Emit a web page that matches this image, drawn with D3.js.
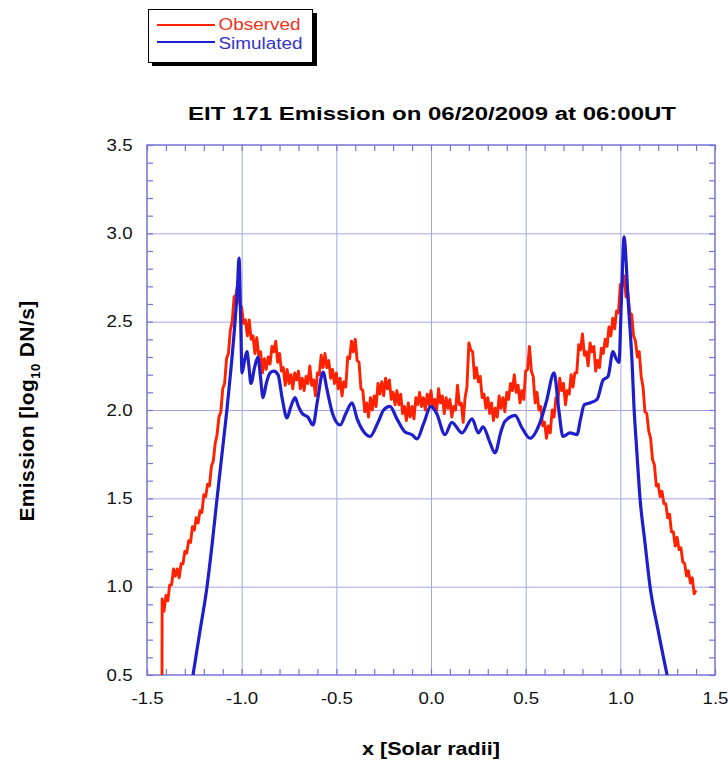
<!DOCTYPE html>
<html>
<head>
<meta charset="utf-8">
<script src="https://cdn.jsdelivr.net/npm/d3@7"></script>
<style>
  body { margin: 0; background: #fff; }
  svg { display: block; }
  text { font-family: "Liberation Sans", Arial, Helvetica, sans-serif; }
</style>
</head>
<body>
<svg id="chart" width="728" height="768"></svg>
<script>
/* ---------------------------------------------------
   Data
--------------------------------------------------- */

const xTicks = [-1.5, -1.0, -0.5, 0.0, 0.5, 1.0, 1.5];
const yTicks = [0.5, 1.0, 1.5, 2.0, 2.5, 3.0, 3.5];

const seriesNames = ["Observed", "Simulated"];

// observed EIT 171 profile (noisy)
const obsX = [
  -1.421, -1.42, -1.41, -1.40, -1.39, -1.38, -1.37, -1.36, -1.35, -1.34, -1.33,
  -1.32, -1.31, -1.30, -1.29, -1.28, -1.27, -1.26, -1.25, -1.24, -1.23,
  -1.22, -1.21, -1.20, -1.19, -1.18, -1.17, -1.16, -1.15, -1.14, -1.13,
  -1.12, -1.11, -1.10, -1.09, -1.08, -1.07, -1.06, -1.05, -1.04, -1.03,
  -1.02, -1.01, -1.00, -0.99, -0.98, -0.97, -0.96, -0.95, -0.94, -0.93,
  -0.92, -0.91, -0.90, -0.89, -0.88, -0.87, -0.86, -0.85, -0.84, -0.83,
  -0.82, -0.81, -0.80, -0.79, -0.78, -0.77, -0.76, -0.75, -0.74, -0.73,
  -0.72, -0.71, -0.70, -0.69, -0.68, -0.67, -0.66, -0.65, -0.64, -0.63,
  -0.62, -0.61, -0.60, -0.59, -0.58, -0.57, -0.56, -0.55, -0.54, -0.53,
  -0.52, -0.51, -0.50, -0.49, -0.48, -0.47, -0.46, -0.45, -0.44, -0.43,
  -0.42, -0.41, -0.40, -0.39, -0.38, -0.37, -0.36, -0.35, -0.34, -0.33,
  -0.32, -0.31, -0.30, -0.29, -0.28, -0.27, -0.26, -0.25, -0.24, -0.23,
  -0.22, -0.21, -0.20, -0.19, -0.18, -0.17, -0.16, -0.15, -0.14, -0.13,
  -0.12, -0.11, -0.10, -0.09, -0.08, -0.07, -0.06, -0.05, -0.04, -0.03,
  -0.02, -0.01, 0.00, 0.01, 0.02, 0.03, 0.04, 0.05, 0.06, 0.07,
  0.08, 0.09, 0.10, 0.11, 0.12, 0.13, 0.14, 0.15, 0.16, 0.17,
  0.18, 0.19, 0.20, 0.21, 0.22, 0.23, 0.24, 0.25, 0.26, 0.27,
  0.28, 0.29, 0.30, 0.31, 0.32, 0.33, 0.34, 0.35, 0.36, 0.37,
  0.38, 0.39, 0.40, 0.41, 0.42, 0.43, 0.44, 0.45, 0.46, 0.47,
  0.48, 0.49, 0.50, 0.51, 0.52, 0.53, 0.54, 0.55, 0.56, 0.57,
  0.58, 0.59, 0.60, 0.61, 0.62, 0.63, 0.64, 0.65, 0.66, 0.67,
  0.68, 0.69, 0.70, 0.71, 0.72, 0.73, 0.74, 0.75, 0.76, 0.77,
  0.78, 0.79, 0.80, 0.81, 0.82, 0.83, 0.84, 0.85, 0.86, 0.87,
  0.88, 0.89, 0.90, 0.91, 0.92, 0.93, 0.94, 0.95, 0.96, 0.97,
  0.98, 0.99, 1.00, 1.01, 1.02, 1.03, 1.04, 1.05, 1.06, 1.07,
  1.08, 1.09, 1.10, 1.11, 1.12, 1.13, 1.14, 1.15, 1.16, 1.17,
  1.18, 1.19, 1.20, 1.21, 1.22, 1.23, 1.24, 1.25, 1.26, 1.27,
  1.28, 1.29, 1.30, 1.31, 1.32, 1.33, 1.34, 1.35, 1.36, 1.37,
  1.38, 1.39, 1.40
];
const obsY = [
  0.40, 0.93, 0.86, 0.95, 0.92, 1.01, 1.01, 1.10, 1.06, 1.10, 1.05,
  1.13, 1.13, 1.20, 1.19, 1.26, 1.25, 1.34, 1.32, 1.39, 1.36,
  1.43, 1.42, 1.52, 1.51, 1.58, 1.57, 1.68, 1.71, 1.81, 1.86,
  1.96, 1.99, 2.12, 2.15, 2.29, 2.32, 2.45, 2.50, 2.64, 2.65,
  2.72, 2.60, 2.58, 2.49, 2.51, 2.42, 2.51, 2.40, 2.42, 2.32,
  2.41, 2.31, 2.33, 2.21, 2.29, 2.23, 2.30, 2.26, 2.36, 2.33,
  2.39, 2.27, 2.32, 2.22, 2.24, 2.14, 2.23, 2.15, 2.20, 2.12,
  2.21, 2.17, 2.22, 2.12, 2.18, 2.11, 2.19, 2.15, 2.25, 2.14,
  2.17, 2.08, 2.21, 2.20, 2.31, 2.24, 2.32, 2.24, 2.28, 2.18,
  2.23, 2.15, 2.21, 2.12, 2.18, 2.08, 2.16, 2.13, 2.30, 2.29,
  2.39, 2.33, 2.40, 2.28, 2.27, 2.12, 2.11, 1.99, 2.04, 1.96,
  2.07, 2.00, 2.08, 2.02, 2.15, 2.09, 2.16, 2.08, 2.18, 2.12,
  2.17, 2.06, 2.10, 2.03, 2.11, 2.03, 2.09, 1.98, 2.02, 1.94,
  2.04, 1.96, 2.02, 1.95, 2.07, 2.03, 2.10, 2.02, 2.07, 2.00,
  2.09, 2.03, 2.11, 2.01, 2.06, 2.00, 2.12, 2.04, 2.08, 1.98,
  2.07, 2.01, 2.06, 1.96, 2.02, 2.00, 2.14, 2.03, 2.04, 1.93,
  2.07, 2.13, 2.38, 2.34, 2.33, 2.18, 2.24, 2.16, 2.19, 2.07,
  2.09, 2.01, 2.07, 1.98, 2.04, 1.94, 2.01, 1.96, 2.08, 2.01,
  2.07, 1.99, 2.10, 2.06, 2.15, 2.11, 2.20, 2.10, 2.14, 2.04,
  2.11, 2.06, 2.22, 2.23, 2.36, 2.22, 2.19, 2.04, 2.10, 2.00,
  2.02, 1.91, 1.93, 1.84, 1.91, 1.87, 2.00, 1.96, 2.07, 2.04,
  2.18, 2.11, 2.15, 2.03, 2.11, 2.09, 2.20, 2.13, 2.21, 2.21,
  2.37, 2.34, 2.43, 2.31, 2.33, 2.25, 2.38, 2.33, 2.36, 2.22,
  2.28, 2.24, 2.35, 2.32, 2.40, 2.36, 2.47, 2.42, 2.52, 2.46,
  2.56, 2.55, 2.71, 2.70, 2.76, 2.64, 2.66, 2.55, 2.54, 2.42,
  2.39, 2.30, 2.33, 2.19, 2.13, 1.99, 1.98, 1.88, 1.84, 1.72,
  1.69, 1.57, 1.58, 1.51, 1.54, 1.47, 1.47, 1.39, 1.41, 1.31,
  1.31, 1.23, 1.28, 1.21, 1.22, 1.14, 1.13, 1.06, 1.09, 1.02,
  1.05, 0.96, 0.98
];

// simulated profile (smooth)
const simX = [
  -1.257, -1.22, -1.183, -1.155, -1.13, -1.104, -1.078, -1.055, -1.035, -1.022,
  -1.014, -1.006, -0.998, -0.985, -0.972, -0.962, -0.951, -0.932, -0.914, -0.90,
  -0.887, -0.87, -0.85, -0.83, -0.808, -0.785, -0.761, -0.74, -0.718, -0.70,
  -0.68, -0.65, -0.623, -0.60, -0.57, -0.55, -0.52, -0.48, -0.45, -0.417,
  -0.39, -0.35, -0.322, -0.28, -0.25, -0.217, -0.18, -0.137, -0.10, -0.074,
  -0.04, 0.0, 0.03, 0.074, 0.11, 0.164, 0.217, 0.25, 0.275, 0.31,
  0.338, 0.37, 0.39, 0.444, 0.48, 0.523, 0.576, 0.61, 0.65, 0.675,
  0.697, 0.734, 0.771, 0.79, 0.81, 0.84, 0.877, 0.909, 0.935, 0.961,
  0.978, 0.993, 1.005, 1.02, 1.03, 1.04, 1.052, 1.062, 1.072, 1.085,
  1.104, 1.13, 1.157, 1.20, 1.247
];
const simY = [
  0.50, 0.75, 1.00, 1.25, 1.50, 1.75, 2.00, 2.25, 2.50, 2.70,
  2.86, 2.55, 2.21, 2.28, 2.33, 2.25, 2.15, 2.24, 2.30, 2.18,
  2.07, 2.15, 2.21, 2.22, 2.20, 2.06, 1.955, 2.02, 2.07, 2.02,
  1.98, 1.96, 1.915, 2.05, 2.215, 2.12, 1.98, 1.915, 1.98, 2.04,
  1.95, 1.87, 1.85, 1.93, 2.00, 2.02, 1.95, 1.876, 1.86, 1.836,
  1.92, 2.02, 1.98, 1.86, 1.93, 1.87, 1.95, 1.87, 1.905, 1.82,
  1.757, 1.88, 1.935, 1.97, 1.90, 1.84, 1.93, 2.05, 2.21, 2.00,
  1.85, 1.87, 1.86, 1.95, 2.03, 2.04, 2.06, 2.17, 2.19, 2.33,
  2.29, 2.27, 2.60, 2.98, 2.85, 2.64, 2.45, 2.27, 2.02, 1.80,
  1.50, 1.25, 1.00, 0.75, 0.50
];

const titleText = "EIT 171 Emission on 06/20/2009 at 06:00UT";

/* ---------------------------------------------------
   Setup
--------------------------------------------------- */

const svg = d3.select("#chart");
const margin = { left: 147, right: 715, top: 145, bottom: 675 };

const red = "#ff2200";
const blue = "#1e1ecc";
const frameColour = "#7474d8";
const gridColour = "#a4a4ea";

const x = d3.scaleLinear().domain([-1.5, 1.5]).range([margin.left, margin.right]);
const y = d3.scaleLinear().domain([0.5, 3.5]).range([margin.bottom, margin.top]);

const obs = obsX.map((d, i) => [d, obsY[i]]);
const sim = simX.map((d, i) => [d, simY[i]]);

// stretch text horizontally a bit, like the original image
function stretch(sel, factor) {
  sel.each(function () {
    const len = this.getComputedTextLength();
    d3.select(this).attr("textLength", len * factor).attr("lengthAdjust", "spacingAndGlyphs");
  });
}

/* ---------------------------------------------------
   Grid and frame
--------------------------------------------------- */

const plotH = margin.bottom - margin.top;
const plotW = margin.right - margin.left;

svg.append("g")
  .attr("transform", `translate(0,${margin.bottom})`)
  .call(d3.axisBottom(x).tickValues(xTicks.slice(1, -1)).tickSize(-plotH).tickFormat(""))
  .call(g => g.select(".domain").remove())
  .call(g => g.selectAll("line").attr("stroke", gridColour));

svg.append("g")
  .attr("transform", `translate(${margin.left},0)`)
  .call(d3.axisLeft(y).tickValues(yTicks.slice(1, -1)).tickSize(-plotW).tickFormat(""))
  .call(g => g.select(".domain").remove())
  .call(g => g.selectAll("line").attr("stroke", gridColour));

const xMinor = d3.range(-15, 16).map(d => d / 10);
const yMinor = d3.range(5, 36).map(d => d / 10);

function minorAxis(axis, tr) {
  svg.append("g")
    .attr("transform", tr)
    .call(axis.tickFormat("").tickSizeOuter(0))
    .call(g => g.select(".domain").remove())
    .call(g => g.selectAll("line").attr("stroke", frameColour).attr("stroke-width", 1.2));
}
minorAxis(d3.axisBottom(x).tickValues(xMinor).tickSize(-6), `translate(0,${margin.bottom})`);
minorAxis(d3.axisTop(x).tickValues(xMinor).tickSize(-6), `translate(0,${margin.top})`);
minorAxis(d3.axisLeft(y).tickValues(yMinor).tickSize(-6), `translate(${margin.left},0)`);
minorAxis(d3.axisRight(y).tickValues(yMinor).tickSize(-6), `translate(${margin.right},0)`);

svg.append("rect")
  .attr("x", margin.left)
  .attr("y", margin.top)
  .attr("width", plotW)
  .attr("height", plotH)
  .attr("fill", "none")
  .attr("stroke", frameColour)
  .attr("stroke-width", 1.5);

/* ---------------------------------------------------
   Tick labels
--------------------------------------------------- */

const xLab = svg.append("g")
  .attr("transform", `translate(0,${margin.bottom})`)
  .call(d3.axisBottom(x).tickValues(xTicks).tickSize(0).tickPadding(17).tickFormat(d => d.toFixed(1)))
  .call(g => g.select(".domain").remove());
xLab.selectAll("text").attr("font-size", 16.5).attr("font-family", null).attr("fill", "#111");
stretch(xLab.selectAll("text"), 1.13);

const yLab = svg.append("g")
  .attr("transform", `translate(${margin.left},0)`)
  .call(d3.axisLeft(y).tickValues(yTicks).tickSize(0).tickPadding(14.5).tickFormat(d => d.toFixed(1)))
  .call(g => g.select(".domain").remove());
yLab.selectAll("text").attr("font-size", 16.5).attr("font-family", null).attr("fill", "#111");
stretch(yLab.selectAll("text"), 1.13);

/* ---------------------------------------------------
   Lines
--------------------------------------------------- */

svg.append("clipPath").attr("id", "plot-clip")
  .append("rect")
  .attr("x", margin.left).attr("y", margin.top)
  .attr("width", plotW).attr("height", plotH);

const line = d3.line().x(d => x(d[0])).y(d => y(d[1]));

const lines = svg.append("g").attr("clip-path", "url(#plot-clip)");

lines.append("path")
  .datum(obs)
  .attr("d", line)
  .attr("fill", "none")
  .attr("stroke", red)
  .attr("stroke-width", 2.9)
  .attr("stroke-linejoin", "round");

lines.append("path")
  .datum(sim)
  .attr("d", line.curve(d3.curveMonotoneX))
  .attr("fill", "none")
  .attr("stroke", blue)
  .attr("stroke-width", 3.2)
  .attr("stroke-linejoin", "round");

/* ---------------------------------------------------
   Titles
--------------------------------------------------- */

svg.append("text")
  .attr("x", 432)
  .attr("y", 120)
  .attr("text-anchor", "middle")
  .attr("font-size", 18)
  .attr("font-weight", "bold")
  .attr("textLength", 488)
  .attr("lengthAdjust", "spacingAndGlyphs")
  .text(titleText);

svg.append("text")
  .attr("x", 431)
  .attr("y", 755)
  .attr("text-anchor", "middle")
  .attr("font-size", 18)
  .attr("font-weight", "bold")
  .attr("textLength", 138)
  .attr("lengthAdjust", "spacingAndGlyphs")
  .text("x [Solar radii]");

const yTitle = svg.append("text")
  .attr("transform", "translate(34,411) rotate(-90)")
  .attr("text-anchor", "middle")
  .attr("font-size", 21)
  .attr("font-weight", "bold")
  .attr("letter-spacing", 0.4);
yTitle.append("tspan").text("Emission [log");
yTitle.append("tspan").attr("font-size", 13).attr("dy", 6).text("10");
yTitle.append("tspan").attr("dy", -6).text(" DN/s]");

/* ---------------------------------------------------
   Legend
--------------------------------------------------- */

const legend = svg.append("g");
legend.append("rect")
  .attr("x", 152).attr("y", 13).attr("width", 165).attr("height", 53)
  .attr("fill", "#000");
legend.append("rect")
  .attr("x", 148.5).attr("y", 9.5).attr("width", 164).attr("height", 53)
  .attr("fill", "#fff").attr("stroke", "#000").attr("stroke-width", 1);

const legendColours = [red, blue];
const legendText = ["#ee3322", "#3333cc"];
const legendWidths = [82, 84];

seriesNames.forEach((name, i) => {
  const ly = 25 + i * 17;
  legend.append("line")
    .attr("x1", 157).attr("x2", 215)
    .attr("y1", ly).attr("y2", ly)
    .attr("stroke", legendColours[i])
    .attr("stroke-width", 2);
  legend.append("text")
    .attr("x", 218.5)
    .attr("y", i === 0 ? 29.5 : 48.5)
    .attr("font-size", 16)
    .attr("fill", legendText[i])
    .attr("textLength", legendWidths[i])
    .attr("lengthAdjust", "spacingAndGlyphs")
    .text(name);
});
</script>
</body>
</html>
